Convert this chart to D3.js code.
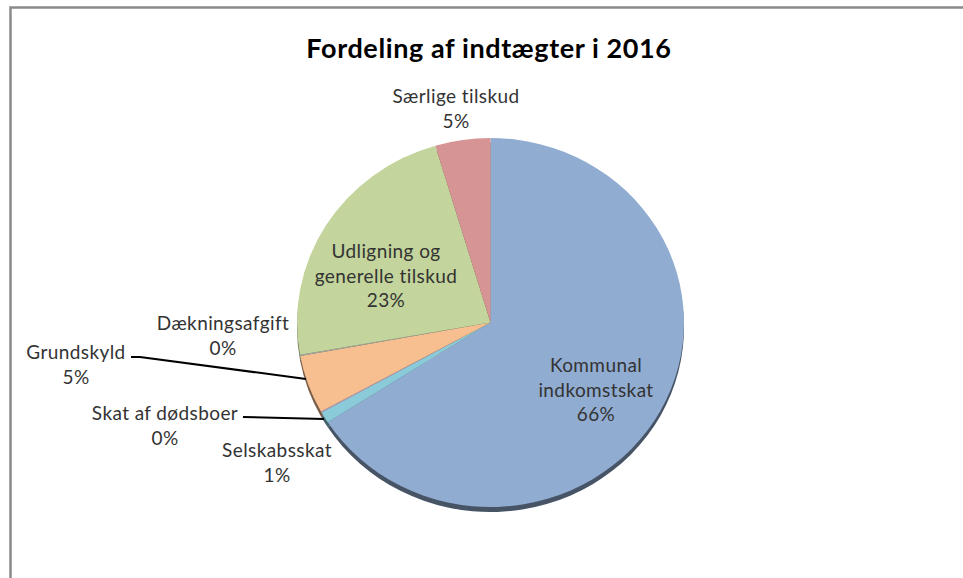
<!DOCTYPE html>
<html>
<head>
<meta charset="utf-8">
<script src="https://cdn.jsdelivr.net/npm/d3@7"></script>
<style>
  body { margin: 0; background: #fff; }
  svg { display: block; font-family: Lato, "Open Sans", sans-serif; }
</style>
</head>
<body>
<svg id="chart"></svg>
<script>
// data, clockwise from 12 o'clock
var categories = ["Kommunal indkomstskat", "Selskabsskat", "Skat af dødsboer", "Grundskyld",
                  "Dækningsafgift", "Udligning og generelle tilskud", "Særlige tilskud"];
var shares = [65.9, 1.0, 0.1, 5.1, 0.1, 23.2, 4.6];
var percentLabels = ["66%", "1%", "0%", "5%", "0%", "23%", "5%"];
var colors = ["#91acd1", "#8bcbd9", "#b3a2c7", "#f7be90", "#a6a6a6", "#c3d59c", "#d69494"];

var width = 963, height = 578;
var cx = 490.5, cy = 322.5, rx = 193.5, ry = 184.5;

var svg = d3.select("#chart")
    .attr("width", width)
    .attr("height", height);

// chart frame (only left and top edges show in the picture)
svg.append("rect")
    .attr("x", 10.5).attr("y", 7.5)
    .attr("width", 1200).attr("height", 1200)
    .attr("fill", "none")
    .attr("stroke", "#8a8a8a")
    .attr("stroke-width", 2.5);

svg.append("text")
    .attr("x", 489).attr("y", 58)
    .attr("text-anchor", "middle")
    .attr("font-size", 27)
    .attr("letter-spacing", 0.6)
    .attr("font-weight", "bold")
    .attr("fill", "#000")
    .text("Fordeling af indtægter i 2016");

var pie = d3.pie().sort(null).value(function(d) { return d; });
var arcs = pie(shares);
var arc = d3.arc().innerRadius(0).outerRadius(rx);

// 3d side of the pie, drawn first and shifted down
svg.append("g")
    .attr("transform", "translate(" + cx + "," + (cy + 5) + ") scale(1," + (ry / rx) + ")")
    .selectAll("path")
    .data(arcs)
    .enter()
    .append("path")
    .attr("d", arc)
    .attr("fill", function(d, i) { return d3.color(colors[i]).darker(2); });

svg.append("g")
    .attr("transform", "translate(" + cx + "," + cy + ") scale(1," + (ry / rx) + ")")
    .selectAll("path")
    .data(arcs)
    .enter()
    .append("path")
    .attr("d", arc)
    .attr("fill", function(d, i) { return colors[i]; });

// label positions (center x, first baseline y), per category
var labelPos = [[596, 372], [277, 457], [165, 420], [76, 359], [223, 330], [386, 258], [456, 103]];
var labelLines = [["Kommunal", "indkomstskat"], ["Selskabsskat"], ["Skat af dødsboer"], ["Grundskyld"],
                  ["Dækningsafgift"], ["Udligning og", "generelle tilskud"], ["Særlige tilskud"]];

// leader lines for Grundskyld and Skat af dødsboer
var leaders = [
    [[131, 357], [140, 357], [306, 379]],
    [[243, 417], [324, 419]]
];
svg.selectAll(".leader")
    .data(leaders)
    .enter()
    .append("path")
    .attr("class", "leader")
    .attr("d", d3.line())
    .attr("fill", "none")
    .attr("stroke", "#000")
    .attr("stroke-width", 2);

var labels = svg.selectAll(".label")
    .data(categories)
    .enter()
    .append("text")
    .attr("class", "label")
    .attr("text-anchor", "middle")
    .attr("font-size", 19)
    .attr("letter-spacing", 0.4)
    .attr("fill", "#333");

labels.each(function(d, i) {
    var t = d3.select(this);
    var lines = labelLines[i].concat([percentLabels[i]]);
    lines.forEach(function(line, j) {
        t.append("tspan")
            .attr("x", labelPos[i][0])
            .attr("y", labelPos[i][1] + j * 24.5)
            .text(line);
    });
});
</script>
</body>
</html>
